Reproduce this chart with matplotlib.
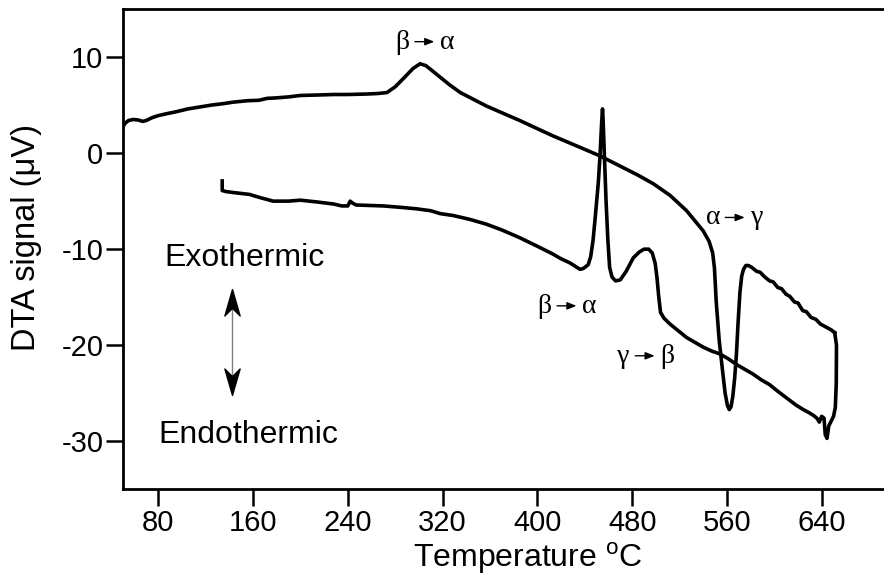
import matplotlib
matplotlib.use("Agg")
import matplotlib.pyplot as plt
from matplotlib.path import Path
from matplotlib import transforms

plt.rcParams['font.family'] = ['Liberation Sans', 'DejaVu Sans']
plt.rcParams['axes.unicode_minus'] = False
plt.rcParams['mathtext.fontset'] = 'custom'
plt.rcParams['mathtext.rm'] = 'Liberation Sans'

# ---- data ----
heat_T = [50, 52, 55, 59, 63, 67, 70, 75, 80, 87, 95, 105, 115, 125, 135, 143,
          155, 165, 172, 180, 190, 200, 215, 228, 240, 256, 265, 273, 280, 288,
          295, 301, 306, 313, 320, 326, 335, 357, 385, 413, 436, 453, 469, 485,
          498, 512, 526, 540, 545, 548, 549.5, 551, 553.5, 556, 558.5, 560.5, 562,
          563.5, 565, 566.5, 568, 569.5, 571, 572.5, 574, 576, 578, 581, 585,
          588, 592, 596, 599, 603, 606, 610, 613, 617, 620, 624, 627, 631, 635,
          639, 642, 645, 648, 651]
heat_V = [2.7, 3.1, 3.4, 3.5, 3.45, 3.3, 3.4, 3.7, 3.9, 4.1, 4.3, 4.6, 4.8, 5.0,
          5.15, 5.3, 5.45, 5.5, 5.7, 5.75, 5.85, 6.0, 6.05, 6.1, 6.1, 6.15, 6.2,
          6.3, 6.9, 7.9, 8.8, 9.3, 9.1, 8.4, 7.7, 7.1, 6.3, 4.9, 3.4, 1.8, 0.6,
          -0.3, -1.3, -2.3, -3.2, -4.4, -6.0, -8.1, -9.2, -10.4, -12.0, -15.5,
          -19.5, -22.3, -25.0, -26.3, -26.7, -26.4, -25.3, -23.5, -21.0, -17.5,
          -14.5, -12.8, -12.1, -11.7, -11.7, -11.9, -12.3, -12.4, -12.9, -13.3,
          -13.4, -14.0, -14.1, -14.7, -14.9, -15.5, -15.6, -16.4, -16.5, -17.1,
          -17.3, -17.8, -18.0, -18.2, -18.4, -18.7]

cool_T = [651, 652.5, 652.3, 651.5, 650, 648, 646, 644.5, 643, 642, 640, 638,
          636, 633, 629, 624.5, 618, 610.5, 603, 596, 589, 582, 575, 568, 561,
          554, 547, 540, 533, 526, 519, 512, 507, 504, 502.5, 501, 499.5, 497,
          494, 490, 486, 481, 475, 470, 466, 463, 461, 459.5, 458, 456.5, 455.5,
          455, 454.2, 453, 451.5, 449, 447, 445, 443, 439, 436, 431, 427, 420,
          413, 400, 385, 370, 357, 343, 329, 318, 310, 298, 285, 270, 258, 247,
          244, 242, 240, 235, 228, 215, 200, 190, 177, 165, 157, 150, 143, 137,
          134, 134]
cool_V = [-18.7, -20.0, -24.0, -26.5, -27.4, -27.9, -28.4, -29.7, -29.3, -27.6,
          -27.4, -28.0, -27.6, -27.3, -27.0, -26.7, -26.2, -25.5, -24.8, -24.1,
          -23.6, -23.0, -22.5, -22.0, -21.4, -20.9, -20.6, -20.2, -19.7, -19.2,
          -18.5, -17.8, -17.2, -16.6, -15.0, -13.0, -11.5, -10.4, -10.0, -10.0,
          -10.3, -10.9, -12.3, -13.2, -13.3, -12.9, -11.9, -9.0, -5.0, 0.0, 3.5,
          4.6, 3.0, 0.0, -3.0, -6.5, -9.1, -10.8, -11.6, -12.0, -12.1, -11.7,
          -11.4, -11.0, -10.5, -9.7, -8.8, -8.0, -7.4, -6.9, -6.5, -6.3, -6.0,
          -5.8, -5.65, -5.5, -5.45, -5.4, -5.2, -5.0, -5.5, -5.5, -5.3, -5.1,
          -4.9, -5.0, -5.0, -4.6, -4.3, -4.2, -4.1, -4.0, -3.9, -2.9]

x_ticks = [80, 160, 240, 320, 400, 480, 560, 640]
y_ticks = [10, 0, -10, -20, -30]

transitions = [("β", "α", 306, 11.6),
               ("α", "γ", 568, -6.7),
               ("β", "α", 426, -15.9),
               ("γ", "β", 492, -21.1)]

# ---- figure ----
fig = plt.figure(figsize=(8.84, 5.81), dpi=100)
ax = fig.add_axes([0.1388, 0.1578, 0.8612, 0.8267])

ax.plot(heat_T, heat_V, color='black', lw=2.6, solid_joinstyle='round')
ax.plot(cool_T, cool_V, color='black', lw=2.6, solid_joinstyle='round')

ax.set_xlim(50, 692.6)
ax.set_ylim(-35, 15.0)
ax.set_xticks(x_ticks)
ax.set_yticks(y_ticks)
ax.set_yticklabels([str(v) for v in y_ticks])

ax.spines['right'].set_visible(False)
for s in ['left', 'top', 'bottom']:
    ax.spines[s].set_linewidth(2.0)
ax.tick_params(axis='both', direction='out', length=12, width=1.8,
               labelsize=21, pad=2)

ax.set_xlabel('Temperature $^{\\mathrm{o}}$C', fontsize=23, va='center')
ax.xaxis.set_label_coords(0.532, -0.143)
ax.set_ylabel('DTA signal (μV)', fontsize=23.5, va='center')
ax.yaxis.set_label_coords(-0.126, 0.525)

# transition labels: letter, small filled arrow, letter
for a, b, T, V in transitions:
    tl = transforms.offset_copy(ax.transData, fig, x=-17, y=-5, units='points')
    tr = transforms.offset_copy(ax.transData, fig, x=15, y=-5, units='points')
    ax.text(T, V, a, transform=tl, ha='center', va='baseline', fontsize=20,
            family=['Liberation Serif', 'DejaVu Serif'])
    ax.text(T, V, b, transform=tr, ha='center', va='baseline', fontsize=20,
            family=['Liberation Serif', 'DejaVu Serif'])
    th = transforms.offset_copy(ax.transData, fig, x=6, y=0, units='points')
    ax.annotate('', xy=(T, V), xycoords=th, xytext=(-14, 0),
                textcoords='offset points',
                arrowprops=dict(arrowstyle='-|>,head_length=0.55,head_width=0.22',
                                lw=1.0, color='black', shrinkA=0, shrinkB=0))

# Exothermic / Endothermic
ax.text(153.2, -10.9, 'Exothermic', fontsize=23, ha='center', va='center')
ax.text(155.7, -29.3, 'Endothermic', fontsize=23, ha='center', va='center')

# double arrow: thin gray shaft, black stealth heads
ax.plot([142.2, 142.2], [-15.5, -23.8], color='gray', lw=1.0)
head = Path([(0, 1), (0.55, -0.9), (0, -0.35), (-0.55, -0.9), (0, 1)],
            [Path.MOVETO, Path.LINETO, Path.LINETO, Path.LINETO, Path.CLOSEPOLY])
ax.plot([142.2], [-15.6], marker=head, markersize=20, color='black', lw=0)
head_down = head.transformed(transforms.Affine2D().scale(1, -1))
ax.plot([142.2], [-23.7], marker=head_down, markersize=20, color='black', lw=0)

fig.savefig('out.png', dpi=100)
